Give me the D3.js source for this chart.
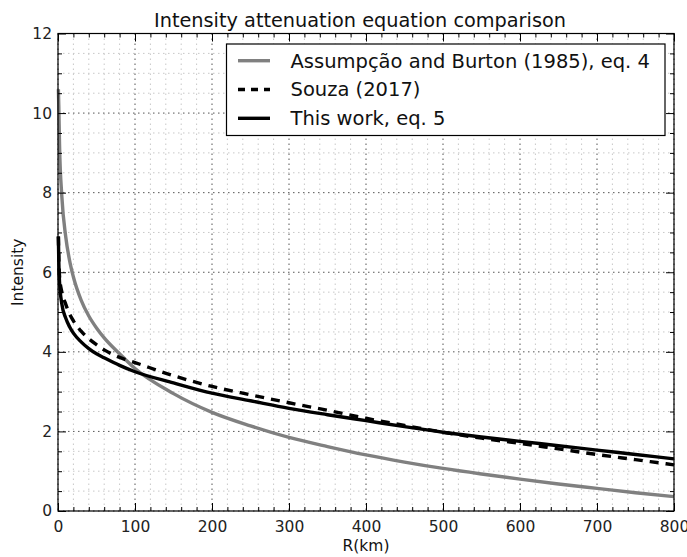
<!DOCTYPE html>
<html>
<head>
<meta charset="utf-8">
<script src="https://cdn.jsdelivr.net/npm/d3@7"></script>
<style>
  body { margin: 0; background: #fff; }
  svg { font-family: "DejaVu Sans", sans-serif; }
</style>
</head>
<body>
<svg id="chart" width="687" height="557"></svg>
<script>
// distances in km
var distance = [0.5, 1, 2, 5, 10, 15, 20, 30, 40, 50, 60, 80, 100, 150, 200, 250, 300, 350, 400, 450, 500, 550, 600, 650, 700, 750, 800];
// Assumpcao and Burton (1985), eq. 4
var assumpcao = [10.6, 10.2, 9.2, 7.9, 6.9, 6.3, 5.88, 5.3, 4.9, 4.6, 4.35, 3.95, 3.58, 2.95, 2.48, 2.14, 1.85, 1.62, 1.41, 1.23, 1.07, 0.93, 0.80, 0.68, 0.57, 0.46, 0.36];
// Souza (2017)
var souza = [6.9, 6.4, 5.9, 5.5, 5.2, 4.95, 4.78, 4.52, 4.33, 4.18, 4.05, 3.86, 3.73, 3.4, 3.13, 2.92, 2.72, 2.53, 2.33, 2.15, 1.98, 1.83, 1.70, 1.56, 1.42, 1.29, 1.16];
// This work, eq. 5
var thisWork = [6.9, 6.3, 5.75, 5.2, 4.85, 4.63, 4.47, 4.25, 4.08, 3.95, 3.85, 3.66, 3.5, 3.22, 2.96, 2.77, 2.58, 2.42, 2.27, 2.12, 1.98, 1.86, 1.75, 1.64, 1.53, 1.42, 1.31];

var xTicks = [0, 100, 200, 300, 400, 500, 600, 700, 800];
var yTicks = [0, 2, 4, 6, 8, 10, 12];

var series = [
  { name: 'Assumpção and Burton (1985), eq. 4', values: assumpcao, color: '#808080', dash: null },
  { name: 'Souza (2017)', values: souza, color: '#000', dash: '9,7' },
  { name: 'This work, eq. 5', values: thisWork, color: '#000', dash: null }
];

var svg = d3.select('#chart');
var margin = { left: 58, right: 13, top: 33.5, bottom: 46 };
var width = 687 - margin.left - margin.right;
var height = 557 - margin.top - margin.bottom;

var x = d3.scaleLinear().domain([0, 800]).range([0, width]);
var y = d3.scaleLinear().domain([0, 12]).range([height, 0]);

var g = svg.append('g').attr('transform', 'translate(' + margin.left + ',' + margin.top + ')');

// minor grid
var xMinor = d3.range(0, 801, 20).filter(function(d) { return d % 100 !== 0; });
var yMinor = d3.range(0, 12.01, 0.5).filter(function(d) { return d % 2 !== 0; });

g.append('g').selectAll('line').data(xMinor).enter().append('line')
  .attr('x1', function(d) { return x(d); }).attr('x2', function(d) { return x(d); })
  .attr('y1', 0).attr('y2', height)
  .attr('stroke', '#c8c8c8').attr('stroke-width', 1).attr('stroke-dasharray', '1.5,3.5');
g.append('g').selectAll('line').data(yMinor).enter().append('line')
  .attr('y1', function(d) { return y(d); }).attr('y2', function(d) { return y(d); })
  .attr('x1', 0).attr('x2', width)
  .attr('stroke', '#c8c8c8').attr('stroke-width', 1).attr('stroke-dasharray', '1.5,3.5');

// major grid
g.append('g').selectAll('line').data(xTicks).enter().append('line')
  .attr('x1', function(d) { return x(d); }).attr('x2', function(d) { return x(d); })
  .attr('y1', 0).attr('y2', height)
  .attr('stroke', '#555').attr('stroke-width', 1).attr('stroke-dasharray', '1.5,3.5');
g.append('g').selectAll('line').data(yTicks).enter().append('line')
  .attr('y1', function(d) { return y(d); }).attr('y2', function(d) { return y(d); })
  .attr('x1', 0).attr('x2', width)
  .attr('stroke', '#555').attr('stroke-width', 1).attr('stroke-dasharray', '1.5,3.5');

// curves
var line = d3.line()
  .x(function(d, i) { return x(distance[i]); })
  .y(function(d) { return y(d); })
  .curve(d3.curveMonotoneX);

g.append('g').selectAll('path').data(series).enter().append('path')
  .attr('d', function(s) { return line(s.values); })
  .attr('fill', 'none')
  .attr('stroke', function(s) { return s.color; })
  .attr('stroke-width', 3.4)
  .attr('stroke-dasharray', function(s) { return s.dash; });

// axes, ticks pointing inward on all four sides
function styleAxis(sel) {
  sel.select('.domain').remove();
  sel.selectAll('.tick line').attr('stroke', '#000');
  sel.selectAll('.tick text').attr('font-size', 15.5).attr('fill', '#222').attr('font-family', 'DejaVu Sans');
}

var xAxis = g.append('g').attr('transform', 'translate(0,' + height + ')')
  .call(d3.axisBottom(x).tickValues(xTicks).tickSize(-8).tickPadding(10).tickFormat(d3.format('d')));
styleAxis(xAxis);
var xAxisTop = g.append('g')
  .call(d3.axisTop(x).tickValues(xTicks).tickSize(-8).tickFormat(''));
styleAxis(xAxisTop);
g.append('g').attr('transform', 'translate(0,' + height + ')')
  .call(d3.axisBottom(x).tickValues(xMinor).tickSize(-4).tickFormat('')).call(styleAxis);
g.append('g')
  .call(d3.axisTop(x).tickValues(xMinor).tickSize(-4).tickFormat('')).call(styleAxis);

var yAxis = g.append('g')
  .call(d3.axisLeft(y).tickValues(yTicks).tickSize(-8).tickPadding(6).tickFormat(d3.format('d')));
styleAxis(yAxis);
g.append('g').attr('transform', 'translate(' + width + ',0)')
  .call(d3.axisRight(y).tickValues(yTicks).tickSize(-8).tickFormat('')).call(styleAxis);
g.append('g')
  .call(d3.axisLeft(y).tickValues(yMinor).tickSize(-4).tickFormat('')).call(styleAxis);
g.append('g').attr('transform', 'translate(' + width + ',0)')
  .call(d3.axisRight(y).tickValues(yMinor).tickSize(-4).tickFormat('')).call(styleAxis);

// frame
g.append('rect').attr('width', width).attr('height', height)
  .attr('fill', 'none').attr('stroke', '#000').attr('stroke-width', 1.2);

// legend
var legend = g.append('g').attr('transform', 'translate(' + (226.5 - margin.left) + ',' + (44 - margin.top) + ')');
legend.append('rect').attr('width', 438.5).attr('height', 91.5)
  .attr('fill', '#fff').attr('stroke', '#000').attr('stroke-width', 1.2);
var item = legend.selectAll('.item').data(series).enter().append('g')
  .attr('transform', function(d, i) { return 'translate(0,' + (16.7 + i * 28.8) + ')'; });
item.append('line').attr('x1', 11.5).attr('x2', 43.5).attr('y1', 0).attr('y2', 0)
  .attr('stroke', function(s) { return s.color; })
  .attr('stroke-width', 3.4)
  .attr('stroke-dasharray', function(s) { return s.dash ? '7,6' : null; });
item.append('text').attr('x', 64).attr('y', 6.8)
  .attr('font-size', 19.5).attr('fill', '#111')
  .text(function(s) { return s.name; });

// title and labels
svg.append('text').attr('x', margin.left + width / 2 - 6).attr('y', 27)
  .attr('text-anchor', 'middle').attr('font-size', 19.3).attr('fill', '#111')
  .text('Intensity attenuation equation comparison');
svg.append('text').attr('x', margin.left + width / 2).attr('y', 551)
  .attr('text-anchor', 'middle').attr('font-size', 15.5).attr('fill', '#111')
  .text('R(km)');
svg.append('text').attr('transform', 'translate(23,' + (margin.top + height / 2) + ') rotate(-90)')
  .attr('text-anchor', 'middle').attr('font-size', 15.5).attr('fill', '#111')
  .text('Intensity');
</script>
</body>
</html>
